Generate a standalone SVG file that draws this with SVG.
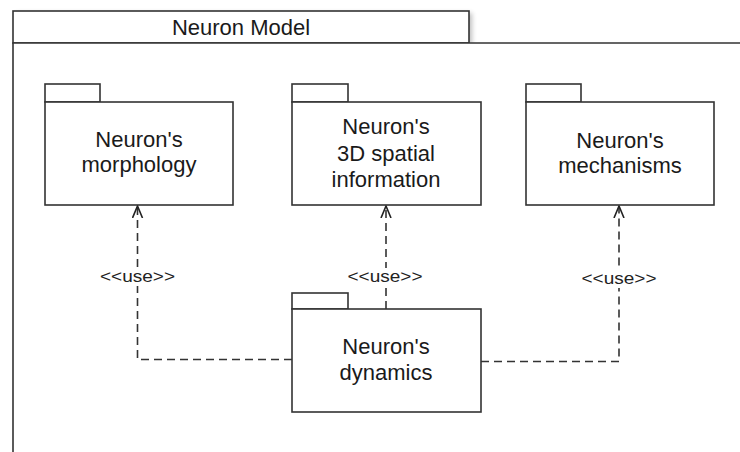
<svg xmlns="http://www.w3.org/2000/svg" width="740" height="452" viewBox="0 0 740 452">
  <defs>
    <style>
      .frame { fill: #ffffff; stroke: #333333; stroke-width: 1.6; }
      .title { font-family: "Liberation Sans", Arial, sans-serif; font-size: 22px; fill: #1a1a1a; text-anchor: middle; }
      .label { font-family: "Liberation Sans", Arial, sans-serif; font-size: 22px; fill: #1a1a1a; text-anchor: middle; }
      .dep { fill: none; stroke: #333333; stroke-width: 1.6; stroke-dasharray: 8 5; }
      .stereo { font-family: "Liberation Sans", Arial, sans-serif; font-size: 17px; fill: #222222; text-anchor: middle; }
      .stereo-bg { fill: #ffffff; }
    </style>
    <marker id="openArrow" markerWidth="14" markerHeight="14" refX="12" refY="6" orient="auto" markerUnits="userSpaceOnUse">
      <path d="M0,1 L12,6 L0,11" fill="none" stroke="#222222" stroke-width="1.6"/>
    </marker>
    <filter id="tabShadow" x="-10%" y="-30%" width="120%" height="160%">
      <feGaussianBlur stdDeviation="2.5"/>
    </filter>
  </defs>

  <!-- enclosing package -->
  <g id="neuron-model">
    <rect x="16" y="13" width="456" height="32" fill="#000000" opacity="0.25" filter="url(#tabShadow)"/>
    <rect class="frame" x="13" y="11" width="456" height="32"/>
    <path class="frame" d="M13,460 V43 H745 V460 Z"/>
    <text class="title" x="241" y="35">Neuron Model</text>
  </g>

  <!-- dependency connectors -->
  <g id="connectors">
    <path class="dep" d="M292,359.5 H137.5 V206" marker-end="url(#openArrow)"/>
    <path class="dep" d="M386,309 V206" marker-end="url(#openArrow)"/>
    <path class="dep" d="M481,361.5 H619 V206" marker-end="url(#openArrow)"/>
    <rect class="stereo-bg" x="99" y="268" width="77" height="18"/>
    <text class="stereo" x="137.5" y="282" textLength="75" lengthAdjust="spacingAndGlyphs">&lt;&lt;use&gt;&gt;</text>
    <rect class="stereo-bg" x="347" y="268" width="77" height="18"/>
    <text class="stereo" x="385" y="282" textLength="75" lengthAdjust="spacingAndGlyphs">&lt;&lt;use&gt;&gt;</text>
    <rect class="stereo-bg" x="581" y="270" width="77" height="18"/>
    <text class="stereo" x="619" y="284" textLength="75" lengthAdjust="spacingAndGlyphs">&lt;&lt;use&gt;&gt;</text>
  </g>

  <g id="morphology">
    <rect class="frame" x="45" y="84" width="55" height="18"/>
    <rect class="frame" x="45" y="102" width="188" height="103"/>
    <text class="label" x="139" y="147">Neuron's</text>
    <text class="label" x="139" y="172">morphology</text>
  </g>

  <g id="spatial">
    <rect class="frame" x="292" y="84" width="56" height="18"/>
    <rect class="frame" x="292" y="102" width="189" height="103"/>
    <text class="label" x="386" y="134">Neuron's</text>
    <text class="label" x="386" y="161">3D spatial</text>
    <text class="label" x="386" y="187">information</text>
  </g>

  <g id="mechanisms">
    <rect class="frame" x="526" y="84" width="55" height="18"/>
    <rect class="frame" x="526" y="102" width="188" height="103"/>
    <text class="label" x="620" y="148">Neuron's</text>
    <text class="label" x="620" y="173">mechanisms</text>
  </g>

  <g id="dynamics">
    <rect class="frame" x="292" y="293" width="56" height="16"/>
    <rect class="frame" x="292" y="309" width="189" height="103"/>
    <text class="label" x="386" y="354">Neuron's</text>
    <text class="label" x="386" y="380">dynamics</text>
  </g>
</svg>
